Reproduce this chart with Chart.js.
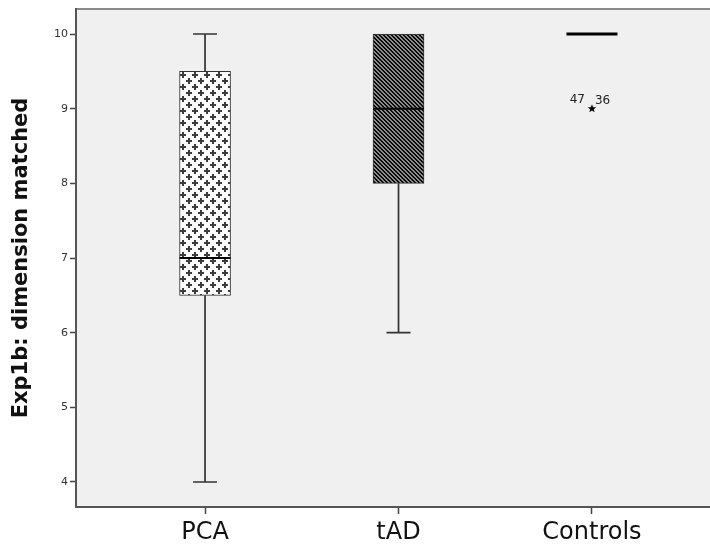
<!DOCTYPE html>
<html>
<head>
<meta charset="utf-8">
<script src="https://cdn.jsdelivr.net/npm/chart.js@4.4.1/dist/chart.umd.min.js"></script>
<style>
html,body{margin:0;padding:0;background:#fff;}
#wrap{width:710px;height:552px;}
</style>
</head>
<body>
<div id="wrap"><canvas id="c" width="710" height="552"></canvas></div>
<script>
// ---- data ----
const categories = ["PCA", "tAD", "Controls"];
const whiskerLow = [4, 6, 10];
const q1 = [6.5, 8, 10];
const median = [7, 9, 10];
const q3 = [9.5, 10, 10];
const whiskerHigh = [10, 10, 10];
const outlierCategory = [2];
const outlierValue = [9];
const outlierIds = [["47", "36"]];
const yTicks = [4, 5, 6, 7, 8, 9, 10];

// ---- patterns ----
function crossPattern() {
  const c = document.createElement('canvas');
  c.width = 12; c.height = 12;
  const g = c.getContext('2d');
  g.fillStyle = '#ffffff'; g.fillRect(0, 0, 12, 12);
  g.fillStyle = '#3c3c3c';
  [[3, 3], [9, 9]].forEach(([x, y]) => {
    g.fillRect(x - 3, y - 1, 6, 2);
    g.fillRect(x - 1, y - 3, 2, 6);
  });
  return g.createPattern(c, 'repeat');
}
function stripePattern() {
  const c = document.createElement('canvas');
  c.width = 4; c.height = 4;
  const g = c.getContext('2d');
  for (let y = 0; y < 4; y++) for (let x = 0; x < 4; x++) {
    g.fillStyle = (((x - y) % 4 + 4) % 4) < 2 ? '#0a0a0a' : '#8c8c8c';
    g.fillRect(x, y, 1, 1);
  }
  return g.createPattern(c, 'repeat');
}

const boxFills = [crossPattern(), stripePattern(), 'rgba(0,0,0,0)'];

const boxPlugin = {
  id: 'boxParts',
  beforeDraw(chart) {
    const { ctx, chartArea: a } = chart;
    ctx.save();
    ctx.fillStyle = '#f0f0f0';
    ctx.fillRect(a.left, a.top, a.right - a.left, a.bottom - a.top);
    ctx.strokeStyle = '#8a8a8a';
    ctx.lineWidth = 2;
    ctx.beginPath();
    ctx.moveTo(a.left, a.top);
    ctx.lineTo(a.right, a.top);
    ctx.stroke();
    ctx.restore();
  },
  afterDatasetsDraw(chart) {
    const { ctx } = chart;
    const xs = chart.scales.x, ys = chart.scales.y;
    const boxW = 51, capW = 24;
    ctx.save();
    categories.forEach((cat, i) => {
      const cx = xs.getPixelForValue(i);
      ctx.strokeStyle = '#333';
      ctx.lineWidth = 1.7;
      const yLo = ys.getPixelForValue(whiskerLow[i]);
      const yQ1 = ys.getPixelForValue(q1[i]);
      const yQ3 = ys.getPixelForValue(q3[i]);
      const yHi = ys.getPixelForValue(whiskerHigh[i]);
      if (whiskerLow[i] < q1[i]) {
        ctx.beginPath();
        ctx.moveTo(cx, yQ1); ctx.lineTo(cx, yLo);
        ctx.moveTo(cx - capW / 2, yLo); ctx.lineTo(cx + capW / 2, yLo);
        ctx.stroke();
      }
      if (whiskerHigh[i] > q3[i]) {
        ctx.beginPath();
        ctx.moveTo(cx, yQ3); ctx.lineTo(cx, yHi);
        ctx.moveTo(cx - capW / 2, yHi); ctx.lineTo(cx + capW / 2, yHi);
        ctx.stroke();
      }
      ctx.strokeStyle = '#000';
      ctx.lineWidth = (q1[i] === q3[i]) ? 3 : 2;
      const ym = ys.getPixelForValue(median[i]);
      ctx.beginPath();
      ctx.moveTo(cx - boxW / 2, ym); ctx.lineTo(cx + boxW / 2, ym);
      ctx.stroke();
    });
    outlierCategory.forEach((ci, k) => {
      const px = xs.getPixelForValue(ci);
      const py = ys.getPixelForValue(outlierValue[k]);
      ctx.fillStyle = '#000';
      ctx.beginPath();
      const R = 4.5, r = 1.9;
      for (let j = 0; j < 10; j++) {
        const ang = -Math.PI / 2 + j * Math.PI / 5;
        const rad = j % 2 === 0 ? R : r;
        const x = px + rad * Math.cos(ang), y = py + rad * Math.sin(ang);
        j === 0 ? ctx.moveTo(x, y) : ctx.lineTo(x, y);
      }
      ctx.closePath();
      ctx.fill();
      ctx.fillStyle = '#222';
      ctx.font = '12px "DejaVu Sans"';
      ctx.textBaseline = 'alphabetic';
      const ids = outlierIds[k];
      ctx.textAlign = 'right';
      ctx.fillText(ids[0], px - 7, py - 6);
      ctx.textAlign = 'left';
      ctx.fillText(ids[1], px + 3, py - 5);
    });
    ctx.restore();
  }
};

new Chart(document.getElementById('c'), {
  type: 'bar',
  data: {
    datasets: [{
      data: categories.map((c, i) => ({ x: i, y: [q1[i], q3[i]] })),
      backgroundColor: boxFills,
      borderColor: ['#333', '#333', 'rgba(0,0,0,0)'],
      borderWidth: [1, 1, 0],
      borderSkipped: false,
      barThickness: 51
    }]
  },
  options: {
    responsive: false,
    animation: false,
    events: [],
    layout: { padding: { top: 9, right: 0, bottom: 0, left: 0 } },
    plugins: { legend: { display: false }, tooltip: { enabled: false } },
    scales: {
      x: {
        type: 'linear',
        offset: false,
        min: -0.667,
        max: 2.61,
        afterBuildTicks(s) { s.ticks = categories.map((c, i) => ({ value: i })); },
        afterFit(s) { s.height = 45; },
        ticks: {
          callback: (v) => categories[v],
          font: { family: '"DejaVu Sans"', size: 24 },
          color: '#111',
          padding: 4,
          maxRotation: 0,
          autoSkip: false
        },
        grid: { offset: false, drawOnChartArea: false, tickLength: 7, tickColor: '#444', tickWidth: 1.5 },
        border: { color: '#555', width: 2 }
      },
      y: {
        min: 3.665,
        max: 10.335,
        afterBuildTicks(s) { s.ticks = yTicks.map(v => ({ value: v })); },
        afterFit(s) { s.width = 76; },
        ticks: {
          font: { family: '"DejaVu Sans"', size: 11 },
          color: '#333',
          padding: 2
        },
        grid: { offset: false, drawOnChartArea: false, tickLength: 6, tickColor: '#444', tickWidth: 1.5 },
        border: { color: '#555', width: 2 },
        title: {
          display: true,
          text: 'Exp1b: dimension matched',
          font: { family: '"DejaVu Sans"', size: 21, weight: 'bold' },
          color: '#111',
          padding: { top: 9, bottom: 0 }
        }
      }
    }
  },
  plugins: [boxPlugin]
});
</script>
</body>
</html>
